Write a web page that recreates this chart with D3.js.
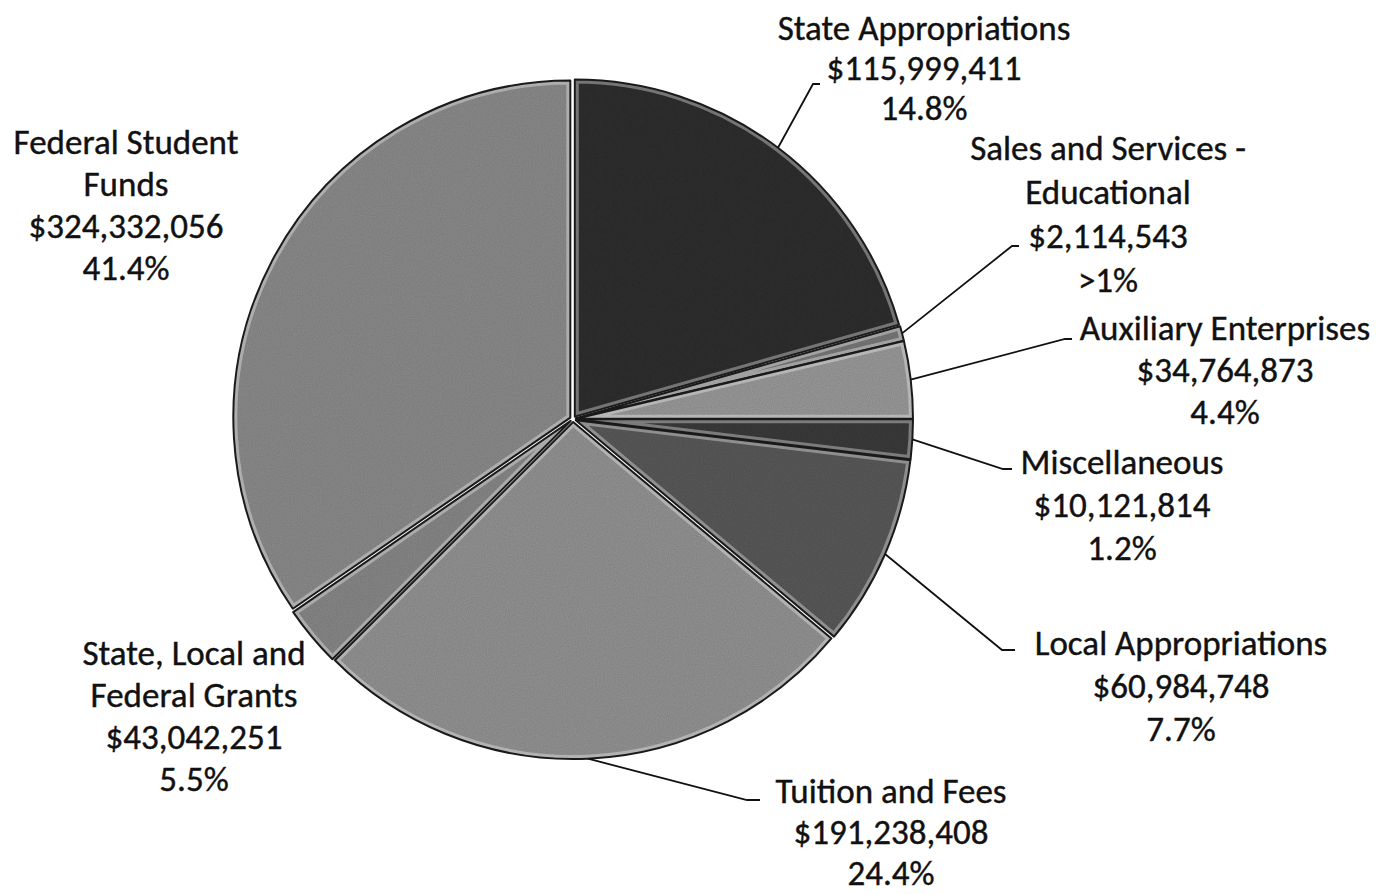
<!DOCTYPE html>
<html>
<head>
<meta charset="utf-8">
<script src="https://cdn.jsdelivr.net/npm/d3@7"></script>
<style>
  body { margin: 0; background: #fff; }
  text { font-family: Carlito, Calibri, Lato, sans-serif; fill: #111; }
</style>
</head>
<body>
<svg id="chart" width="1393" height="894"></svg>
<script>

// ---- data ----
var categories = ["State Appropriations", "Sales and Services - Educational", "Auxiliary Enterprises",
                  "Miscellaneous", "Local Appropriations", "Tuition and Fees",
                  "State, Local and Federal Grants", "Federal Student Funds"];
var labelLines = [["State Appropriations"], ["Sales and Services -", "Educational"], ["Auxiliary Enterprises"],
                  ["Miscellaneous"], ["Local Appropriations"], ["Tuition and Fees"],
                  ["State, Local and", "Federal Grants"], ["Federal Student", "Funds"]];
var amounts = ["$115,999,411", "$2,114,543", "$34,764,873", "$10,121,814",
               "$60,984,748", "$191,238,408", "$43,042,251", "$324,332,056"];
var percents = ["14.8%", ">1%", "4.4%", "1.2%", "7.7%", "24.4%", "5.5%", "41.4%"];
// share of the circle each slice takes as drawn in the picture (%)
var drawnShares = [20.6, 0.7, 3.7, 1.9, 9.2, 26.4, 2.9, 34.6];

// ---- look ----
var shades = ["#333333", "#7a7a7a", "#9c9c9c", "#3c3c3c", "#5c5c5c", "#969696", "#8a8a8a", "#8e8e8e"];

// label placement: center x, first line y, line step, leader elbow + end (null = no leader)
var labelPos = [
  {x: 924,  y: 28,  step: 40, elbow: [813, 84],   end: [820, 84]},
  {x: 1108, y: 148, step: 44, elbow: [1012, 246], end: [1019, 246]},
  {x: 1225, y: 328, step: 42, elbow: [1065, 339], end: [1072, 339]},
  {x: 1122, y: 462, step: 43, elbow: [1003, 469], end: [1012, 469]},
  {x: 1181, y: 643, step: 43, elbow: [1002, 650], end: [1015, 650]},
  {x: 891,  y: 791, step: 41, elbow: [747, 800],  end: [760, 800]},
  {x: 194,  y: 653, step: 42, elbow: null, end: null},
  {x: 126,  y: 142, step: 42, elbow: null, end: null}
];

var cx = 573, cy = 419, radius = 337, explode = 3;

var svg = d3.select("#chart");
var defs = svg.append("defs");

var rows = categories.map(function(c, i) {
  return {name: c, share: drawnShares[i], shade: shades[i], lines: labelLines[i].concat([amounts[i], percents[i]]), pos: labelPos[i]};
});

var pie = d3.pie().sort(null).value(function(d) { return d.share; });
var arc = d3.arc().innerRadius(0).outerRadius(radius);
var arcs = pie(rows);

// soft grain, like the printed original
var grain = defs.append("filter").attr("id", "grain").attr("x", 0).attr("y", 0).attr("width", 1).attr("height", 1);
grain.append("feTurbulence").attr("type", "fractalNoise").attr("baseFrequency", 0.9).attr("numOctaves", 1).attr("result", "noise");
grain.append("feColorMatrix").attr("in", "noise").attr("type", "matrix")
  .attr("values", "0 0 0 0 0  0 0 0 0 0  0 0 0 0 0  0 0 0 0.35 0").attr("result", "dots");
grain.append("feComposite").attr("in", "dots").attr("in2", "SourceGraphic").attr("operator", "in").attr("result", "clipped");
var gm = grain.append("feMerge");
gm.append("feMergeNode").attr("in", "SourceGraphic");
gm.append("feMergeNode").attr("in", "clipped");

var g = svg.append("g").attr("transform", "translate(" + cx + "," + cy + ")");

var slices = g.selectAll(".slice")
  .data(arcs)
  .enter()
  .append("g")
  .attr("class", "slice")
  .attr("transform", function(d) {
    var a = (d.startAngle + d.endAngle) / 2;
    return "translate(" + (Math.sin(a) * explode) + "," + (-Math.cos(a) * explode) + ")";
  });

arcs.forEach(function(d, i) {
  defs.append("clipPath").attr("id", "clip" + i).append("path").attr("d", arc(d));
});

// base fill
slices.append("path")
  .attr("d", arc)
  .attr("fill", function(d) { return d.data.shade; })
  .attr("filter", "url(#grain)");

// bevel: light band just inside the edges
slices.append("path")
  .attr("d", arc)
  .attr("fill", "none")
  .attr("stroke", "#fff")
  .attr("stroke-opacity", 0.35)
  .attr("stroke-width", 8)
  .attr("clip-path", function(d, i) { return "url(#clip" + i + ")"; });

// dark rim
slices.append("path")
  .attr("d", arc)
  .attr("fill", "none")
  .attr("stroke", "#1a1a1a")
  .attr("stroke-width", 2)
  .attr("stroke-linejoin", "round");

// leader lines
arcs.forEach(function(d) {
  var p = d.data.pos;
  if (!p.elbow) return;
  var a = (d.startAngle + d.endAngle) / 2;
  var start = [cx + Math.sin(a) * (radius + explode), cy - Math.cos(a) * (radius + explode)];
  svg.append("polyline")
    .attr("points", [start, p.elbow, p.end].map(function(q) { return q.join(","); }).join(" "))
    .attr("fill", "none")
    .attr("stroke", "#111")
    .attr("stroke-width", 1.8);
});

// labels
var labels = svg.selectAll(".label")
  .data(arcs)
  .enter()
  .append("text")
  .attr("class", "label")
  .attr("text-anchor", "middle")
  .style("font-size", "35px")
  .style("stroke", "#111")
  .style("stroke-width", "0.4px");

labels.selectAll("tspan")
  .data(function(d) { return d.data.lines.map(function(t, k) { return {t: t, k: k, p: d.data.pos}; }); })
  .enter()
  .append("tspan")
  .attr("x", function(d) { return d.p.x; })
  .attr("y", function(d) { return d.p.y + d.k * d.p.step; })
  .attr("dominant-baseline", "central")
  .text(function(d) { return d.t; });

</script>
</body>
</html>
